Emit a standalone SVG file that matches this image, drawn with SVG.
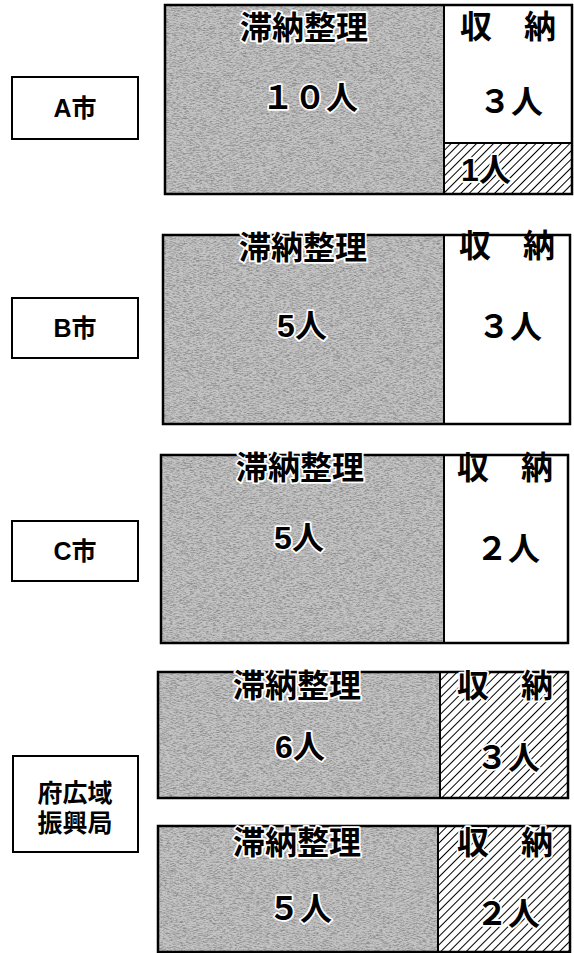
<svg xmlns="http://www.w3.org/2000/svg" width="574" height="953" viewBox="0 0 574 953">
<style>
.lbl{fill:#fff;stroke:#000;stroke-width:2}
.box{fill:none;stroke:#000;stroke-width:2.5}
.gray{fill:#c4c4c4}
.wh{fill:#fff}
.t{font-family:"Liberation Sans","Noto Sans CJK JP",sans-serif;font-weight:bold;fill:#000;text-anchor:middle}
.h{paint-order:stroke;stroke:#fff;stroke-width:3.5;stroke-linejoin:round}
.big{font-size:32px}
.lt{font-size:25px}
</style>
<defs>
<pattern id="hatch" width="6" height="6" patternUnits="userSpaceOnUse" patternTransform="rotate(45)">
<rect width="6" height="6" fill="#fff"/>
<line x1="0" y1="0" x2="0" y2="6" stroke="#000" stroke-width="2"/>
</pattern>
<filter id="noise" x="0" y="0" width="100%" height="100%">
<feTurbulence type="fractalNoise" baseFrequency="0.3 1.4" numOctaves="3" seed="7" result="n"/>
<feColorMatrix in="n" type="matrix" values="0 0 0 0 0.25  0 0 0 0 0.25  0 0 0 0 0.25  2.4 0 0 0 -0.95" result="d"/>
<feComposite in="d" in2="SourceGraphic" operator="in"/>
</filter>
</defs>

<g id="label-a">
<rect class="lbl" x="12" y="77" width="126" height="62"/>
<text class="t lt" x="75" y="117">A市</text>
</g>
<g id="label-b">
<rect class="lbl" x="12" y="298" width="126" height="60"/>
<text class="t lt" x="75" y="337">B市</text>
</g>
<g id="label-c">
<rect class="lbl" x="12" y="521" width="126" height="60"/>
<text class="t lt" x="75" y="560">C市</text>
</g>
<g id="label-pref">
<rect class="lbl" x="13" y="756" width="125" height="96"/>
<text class="t lt" x="75" y="802">府広域</text>
<text class="t lt" x="75" y="832">振興局</text>
</g>

<g id="city-a">
<rect class="gray" x="165" y="5" width="279" height="189"/>
<rect x="165" y="5" width="279" height="189" fill="#fff" filter="url(#noise)"/>
<rect class="wh" x="444" y="5" width="128" height="138"/>
<rect x="444" y="143" width="128" height="51" fill="url(#hatch)"/>
<line x1="444" y1="143" x2="572" y2="143" stroke="#000" stroke-width="2"/>
<line x1="444" y1="5" x2="444" y2="194" stroke="#000" stroke-width="2"/>
<rect class="box" x="165" y="5" width="407" height="189"/>
<text class="t big h" x="304" y="39">滞納整理</text>
<text class="t big h" x="310" y="109">１０人</text>
<text class="t big" x="508" y="38">収　納</text>
<text class="t big" x="511" y="113">３人</text>
<text class="t big h" x="486" y="181">1人</text>
</g>

<g id="city-b">
<rect class="gray" x="163" y="235" width="281" height="189"/>
<rect x="163" y="235" width="281" height="189" fill="#fff" filter="url(#noise)"/>
<rect class="wh" x="444" y="235" width="126" height="189"/>
<line x1="444" y1="235" x2="444" y2="424" stroke="#000" stroke-width="2"/>
<rect class="box" x="163" y="235" width="407" height="189"/>
<text class="t big h" x="303" y="259">滞納整理</text>
<text class="t big h" x="302" y="337">5人</text>
<text class="t big" x="507" y="257">収　納</text>
<text class="t big" x="510" y="338">３人</text>
</g>

<g id="city-c">
<rect class="gray" x="161" y="455" width="283" height="188"/>
<rect x="161" y="455" width="283" height="188" fill="#fff" filter="url(#noise)"/>
<rect class="wh" x="444" y="455" width="124" height="188"/>
<line x1="444" y1="455" x2="444" y2="643" stroke="#000" stroke-width="2"/>
<rect class="box" x="161" y="455" width="407" height="188"/>
<text class="t big h" x="300" y="479">滞納整理</text>
<text class="t big h" x="299" y="549">5人</text>
<text class="t big" x="505" y="479">収　納</text>
<text class="t big" x="508" y="560">２人</text>
</g>

<g id="pref-1">
<rect class="gray" x="158" y="672" width="282" height="126"/>
<rect x="158" y="672" width="282" height="126" fill="#fff" filter="url(#noise)"/>
<rect x="440" y="672" width="128" height="126" fill="url(#hatch)"/>
<line x1="440" y1="672" x2="440" y2="798" stroke="#000" stroke-width="2"/>
<rect class="box" x="158" y="672" width="410" height="126"/>
<text class="t big h" x="297" y="697">滞納整理</text>
<text class="t big h" x="300" y="758">6人</text>
<text class="t big h" x="505" y="697">収　納</text>
<text class="t big h" x="508" y="769">３人</text>
</g>

<g id="pref-2">
<rect class="gray" x="158" y="826" width="280" height="126"/>
<rect x="158" y="826" width="280" height="126" fill="#fff" filter="url(#noise)"/>
<rect x="438" y="826" width="132" height="126" fill="url(#hatch)"/>
<line x1="438" y1="826" x2="438" y2="952" stroke="#000" stroke-width="2"/>
<rect class="box" x="158" y="826" width="412" height="126"/>
<text class="t big h" x="297" y="854">滞納整理</text>
<text class="t big h" x="300" y="920">５人</text>
<text class="t big h" x="505" y="854">収　納</text>
<text class="t big h" x="508" y="925">２人</text>
</g>
</svg>
